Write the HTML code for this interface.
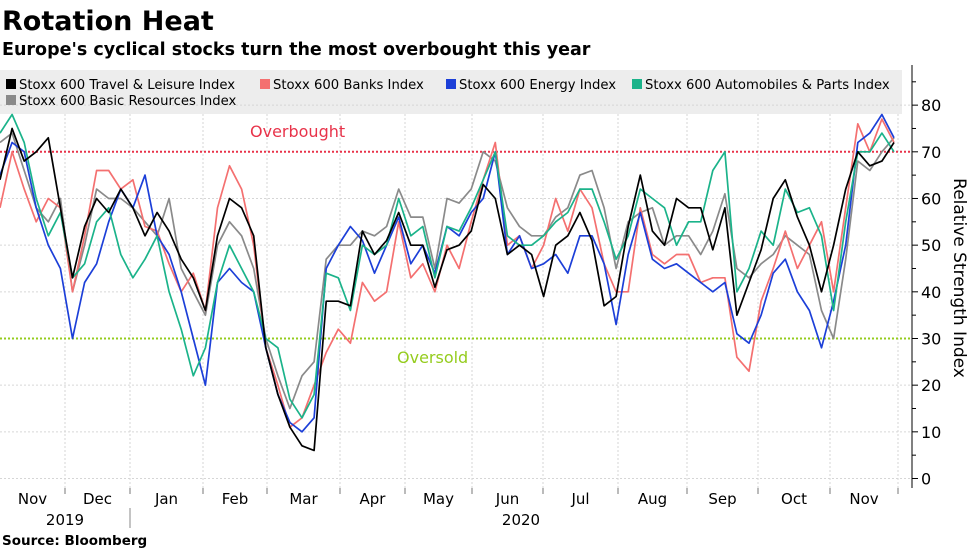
<!DOCTYPE html>
<html><head><meta charset="utf-8"><style>
body{margin:0;background:#fff;font-family:"Liberation Sans",sans-serif;}
svg text{font-family:"DejaVu Sans","Liberation Sans",sans-serif;}
</style></head><body>
<svg id="c" width="977" height="549" viewBox="0 0 977 549" xmlns="http://www.w3.org/2000/svg">
<text x="2" y="30" font-size="27" font-weight="bold" fill="#000">Rotation Heat</text>
<text x="2" y="55" font-size="17.5" font-weight="bold" fill="#000">Europe's cyclical stocks turn the most overbought this year</text>
<rect x="0" y="70" width="902" height="44" fill="#ededed"/>
<g id="grid"></g>
<g id="lines"></g>
<g id="axis"></g>
<g id="legend"></g>
<text x="250" y="137" font-size="16" fill="#e8334a">Overbought</text>
<text x="397" y="363" font-size="16" fill="#95cc1e">Oversold</text>
<text transform="translate(954,278) rotate(90)" text-anchor="middle" font-size="17" fill="#000">Relative Strength Index</text>
<text x="65" y="525" font-size="15" text-anchor="middle">2019</text>
<text x="521" y="525" font-size="15" text-anchor="middle">2020</text>
<line x1="130" y1="508" x2="130" y2="528" stroke="#888" stroke-width="1"/>
<text x="2" y="545" font-size="13.5" font-weight="bold">Source: Bloomberg</text>
</svg>
<script>
const months=["Nov","Dec","Jan","Feb","Mar","Apr","May","Jun","Jul","Aug","Sep","Oct","Nov"];
const monthStarts=[0,65,130,203,267,340,405,472,543,618,687,758,830,898];
const yTicks=[0,10,20,30,40,50,60,70,80];
const overbought=70, oversold=30;
const seriesNames=["Stoxx 600 Travel & Leisure Index","Stoxx 600 Banks Index","Stoxx 600 Energy Index","Stoxx 600 Automobiles & Parts Index","Stoxx 600 Basic Resources Index"];
const travel=[64,75,68,70,73,58,43,54,60,57,62,58,52,57,53,47,43,36,52,60,58,52,28,18,11,7,6,38,38,37,53,48,51,57,50,50,41,49,50,53,63,60,48,50,48,39,50,52,57,51,37,39,54,65,53,50,60,58,58,49,58,35,42,49,60,64,56,50,40,50,62,70,67,68,72];
const banks=[58,70,62,55,60,58,40,52,66,66,62,64,54,53,46,40,44,36,58,67,62,50,28,20,11,13,20,27,32,29,42,38,40,55,43,46,40,50,45,55,64,72,50,52,45,50,60,53,62,58,46,40,40,58,48,46,48,48,42,43,43,26,23,38,45,53,45,50,55,40,58,76,70,77,72];
const energy=[65,72,70,58,50,45,30,42,46,55,62,58,65,52,48,40,30,20,42,45,42,40,28,18,12,10,13,45,50,54,51,44,50,56,46,50,44,54,52,57,60,70,48,52,45,46,48,44,52,52,46,33,48,57,47,45,46,44,42,40,42,31,29,35,44,47,40,36,28,38,50,72,74,78,73];
const autos=[74,78,72,60,52,57,43,46,55,58,48,43,47,52,40,32,22,28,42,50,45,40,30,28,17,13,18,44,43,36,50,48,50,60,52,54,43,54,53,58,64,70,52,50,50,52,55,57,62,62,55,47,52,62,60,58,50,55,55,66,70,40,45,53,50,62,57,58,52,36,55,70,70,74,70];
const basic=[72,74,66,58,55,60,40,50,62,60,60,58,55,52,60,45,40,35,50,55,52,45,30,22,15,22,25,47,50,50,53,52,54,62,56,56,45,60,59,62,70,68,58,54,52,52,56,58,65,66,58,45,55,57,58,50,52,52,48,53,61,45,43,46,48,52,50,48,36,30,47,68,66,70,73];
const NS="http://www.w3.org/2000/svg";
const X0=0,X1=894,Y0=478.5,PPU=4.667;
const xs=i=>X0+i*(X1-X0)/(travel.length-1);
const ys=v=>Y0-v*PPU;
function mk(tag,attrs,parent){const e=document.createElementNS(NS,tag);for(const k in attrs)e.setAttribute(k,attrs[k]);parent.appendChild(e);return e;}
const grid=document.getElementById('grid'),axis=document.getElementById('axis'),lines=document.getElementById('lines'),legend=document.getElementById('legend');
yTicks.forEach(v=>{
 if(v===overbought||v===oversold)return;
 const g=mk('line',{x1:0,x2:912,y1:ys(v),y2:ys(v),stroke:'#d6d6d6','stroke-dasharray':'2,2'},grid);
 
 
});
monthStarts.forEach((x,i)=>{
 if(i===0)return;
 const g=mk('line',{x1:x,x2:x,y1:114,y2:488,stroke:'#d6d6d6','stroke-dasharray':'2,2'},grid);
 
 
 const t=mk('line',{x1:x,x2:x,y1:488,y2:494,stroke:'#777'},grid);
 
 
});
months.forEach((m,i)=>{
 const t=mk('text',{x:(monthStarts[i]+monthStarts[i+1])/2+ (i===0?0:0),y:504,'font-size':15,'text-anchor':'middle',fill:'#000'},grid);
 t.textContent=m;
 
 
});
const ob=mk('line',{x1:0,x2:912,y1:ys(overbought),y2:ys(overbought),stroke:'#e8334a','stroke-width':2,'stroke-dasharray':'2,2'},grid);


const os=mk('line',{x1:0,x2:912,y1:ys(oversold),y2:ys(oversold),stroke:'#95cc1e','stroke-width':2,'stroke-dasharray':'2,2'},grid);


const data=[basic,banks,energy,autos,travel];
const colors=['#8a8a8a','#f47070','#1c3fd8','#1bb38a','#000000'];
const lnames=['line-basic-resources','line-banks','line-energy','line-automobiles','line-travel-leisure'];
data.forEach((s,j)=>{
 const p=mk('polyline',{points:s.map((v,i)=>xs(i).toFixed(1)+','+ys(v).toFixed(1)).join(' '),fill:'none',stroke:colors[j],'stroke-width':1.7,'stroke-linejoin':'round'},lines);
 
 
});
const ax=mk('line',{x1:912,x2:912,y1:65,y2:488,stroke:'#000','stroke-width':1},axis);


for(let v=0;v<=85;v+=5){
 const major=v%10===0;
 const t=mk('line',{x1:912,x2:major?918:916,y1:ys(v),y2:ys(v),stroke:'#000'},axis);
 
 
}
yTicks.forEach(v=>{
 const t=mk('text',{x:921,y:ys(v)+6,'font-size':16,fill:'#000'},axis);
 t.textContent=v;
 
 
});
const legColors=['#000000','#f47070','#1c3fd8','#1bb38a','#8a8a8a'];
const legPos=[[6,89],[260,89],[446,89],[632,89],[6,105]];
seriesNames.forEach((n,i)=>{
 const r=mk('rect',{x:legPos[i][0],y:legPos[i][1]-10,width:10,height:10,fill:legColors[i]},legend);
 
 
 const t=mk('text',{x:legPos[i][0]+13,y:legPos[i][1],'font-size':13.2,fill:'#000'},legend);
 t.textContent=n;
 
 
});
</script>
</body></html>
